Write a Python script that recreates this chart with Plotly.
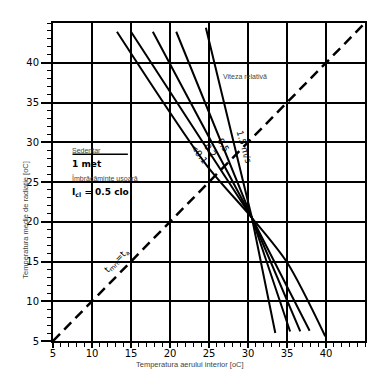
import plotly.graph_objects as go

# ---- data ----
tick_vals = [5, 10, 15, 20, 25, 30, 35, 40]
tick_text = ["5", "10", "15", "20", "25", "30", "35", "40"]
diag_x = [5, 45]
diag_y = [5, 45]

# relative-velocity comfort lines (air temp, mean radiant temp)
v01_x = [13.2, 24.7, 30.5, 35.0, 39.9]
v01_y = [43.9, 27.1, 20.5, 14.9, 5.6]
v02_x = [15.0, 30.5, 37.9]
v02_y = [43.9, 20.5, 6.3]
v05_x = [17.8, 30.5, 36.7]
v05_y = [43.9, 20.5, 6.2]
v10_x = [20.8, 30.5, 35.4]
v10_y = [43.9, 20.5, 6.2]
v15_x = [24.6, 30.5, 33.5]
v15_y = [44.4, 20.5, 6.0]

vel_labels = ["<0.1", "0.2", "0.5", "1.5 m/s"]
vel_label_x = [23.7, 25.1, 26.8, 29.5]
vel_label_y = [28.5, 29.0, 29.65, 29.4]
vel_label_angle = [52, 56, 60, 74]

fig = go.Figure()
fig.add_trace(go.Scatter(x=diag_x, y=diag_y, mode="lines",
                         line=dict(color="black", width=2.5, dash="10px,6px"),
                         hoverinfo="skip", showlegend=False))
fig.add_trace(go.Scatter(x=v01_x, y=v01_y, mode="lines",
                         line=dict(color="black", width=2, shape="spline", smoothing=0.8),
                         hoverinfo="skip", showlegend=False))
for xs, ys in [(v02_x, v02_y), (v05_x, v05_y), (v10_x, v10_y), (v15_x, v15_y)]:
    fig.add_trace(go.Scatter(x=xs, y=ys, mode="lines",
                             line=dict(color="black", width=2),
                             hoverinfo="skip", showlegend=False))

ann = []
for t, x, y, a in zip(vel_labels, vel_label_x, vel_label_y, vel_label_angle):
    ann.append(dict(x=x, y=y, text=t, showarrow=False, textangle=a,
                    font=dict(family="DejaVu Sans", size=9, color="black")))
ann.append(dict(x=13.2, y=15.1, text="t<sub>mrt</sub>=t<sub>a</sub>", showarrow=False,
                textangle=-45, font=dict(family="DejaVu Sans", size=9, color="black")))
ann.append(dict(x=26.6, y=38.3, text="Viteza relativă", showarrow=False, xanchor="left",
                font=dict(family="Liberation Sans", size=7, color="#444")))
ann.append(dict(x=7.2, y=29.0, text="Sedentar", showarrow=False, xanchor="left",
                font=dict(family="Liberation Sans", size=7, color="#444")))
ann.append(dict(x=7.2, y=27.3, text="<b>1 met</b>", showarrow=False, xanchor="left",
                font=dict(family="DejaVu Sans", size=9, color="black")))
ann.append(dict(x=7.0, y=25.4, text="Îmbrăcăminte uşoară", showarrow=False, xanchor="left",
                font=dict(family="Liberation Sans", size=7, color="#444")))
ann.append(dict(x=7.2, y=23.7, text="<b>I<sub>cl</sub> = 0.5 clo</b>", showarrow=False, xanchor="left",
                font=dict(family="DejaVu Sans", size=9, color="black")))
ann.append(dict(x=0.44, y=-0.075, xref="paper", yref="paper", yanchor="middle",
                text="Temperatura aerului interior [oC]", showarrow=False,
                font=dict(family="Liberation Sans", size=7.5, color="#444")))
ann.append(dict(x=-0.088, y=0.38, xref="paper", yref="paper", xanchor="center", yanchor="middle",
                text="Temperatura medie de radiaţie [oC]", showarrow=False, textangle=-90,
                font=dict(family="Liberation Sans", size=7.5, color="#444")))

shapes = [
    dict(type="rect", x0=6.0, x1=17.4, y0=22.0, y1=29.8, fillcolor="white",
         line=dict(width=0), layer="below"),
    dict(type="rect", x0=17.4, x1=20.5, y0=24.6, y1=25.4, fillcolor="white",
         line=dict(width=0), layer="below"),
    dict(type="rect", x0=23.9, x1=28.1, y0=39.7, y1=40.3, fillcolor="white",
         line=dict(width=0), layer="below"),
    dict(type="rect", x0=23.9, x1=29.6, y0=34.7, y1=35.3, fillcolor="white",
         line=dict(width=0), layer="below"),
    dict(type="line", x0=7.5, x1=14.6, y0=28.5, y1=28.5, line=dict(color="black", width=1.5)),
    dict(type="line", x0=7.0, x1=17.4, y0=25.0, y1=25.0, line=dict(color="black", width=1.5)),
]

axis_common = dict(range=[5, 45], tickvals=tick_vals, ticktext=tick_text,
                   showgrid=True, gridcolor="black", gridwidth=1.5,
                   showline=True, linecolor="black", linewidth=2, mirror=True,
                   ticks="outside", tickcolor="black", tickwidth=1.5,
                   minor=dict(dtick=1, ticks="outside", ticklen=4, tickcolor="black",
                              tickwidth=1.2, showgrid=False),
                   tickfont=dict(family="DejaVu Sans", size=10, color="black"),
                   zeroline=False, fixedrange=True)

fig.update_layout(
    width=390, height=389,
    margin=dict(l=53, r=25, t=23, b=48),
    paper_bgcolor="white", plot_bgcolor="white",
    xaxis=dict(**axis_common, ticklen=5, ticklabelstandoff=-3),
    yaxis=dict(**axis_common, ticklen=10),
    annotations=ann, shapes=shapes, showlegend=False,
)
fig.write_html("out.html", config={"displayModeBar": False},
               post_script="document.body.style.margin='0';document.body.style.overflow='hidden';")
